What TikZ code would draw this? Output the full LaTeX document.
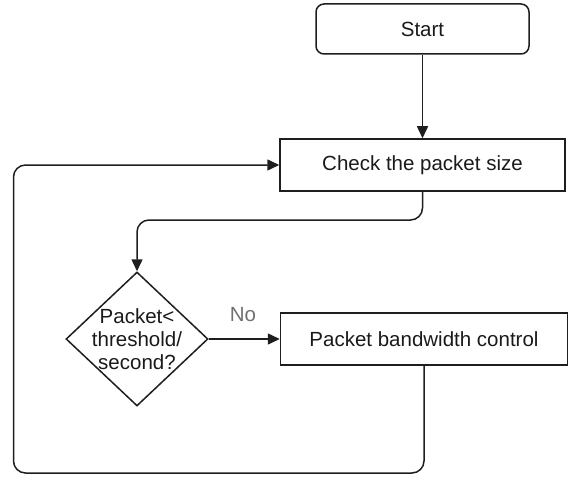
\documentclass[tikz,border=0pt]{standalone}
\usepackage{fontspec}
\setmainfont{Liberation Sans}
\usetikzlibrary{shapes.geometric,arrows.meta}
\definecolor{ln}{HTML}{1E1E1E}
\definecolor{tx}{HTML}{1A1A1A}
\definecolor{gr}{HTML}{707070}
\begin{document}
\begin{tikzpicture}[x=1pt,y=-1pt,
  box/.style={draw=ln,line width=1.5pt,rectangle,inner sep=0pt,text=tx,
    font=\fontsize{20.5}{23}\selectfont},
  conn/.style={draw=ln,line width=1.5pt,-{Triangle[length=12pt,width=11pt]}},
  txt/.style={text=tx,font=\fontsize{20.5}{23}\selectfont,align=center,inner sep=0pt}]
\useasboundingbox (0,0) rectangle (571,495);
\node[box,rounded corners=8pt,minimum width=213pt,minimum height=50pt] (start) at (422.5,29) {Start};
\node[box,minimum width=285pt,minimum height=52pt] (check) at (422.5,165) {Check the packet size};
\node[draw=ln,line width=1.5pt,diamond,inner sep=0pt,minimum width=142pt,minimum height=134pt] (dec) at (137,339) {};
\node[txt] (dectext) at (dec.center) {Packet<\\threshold/\\second?};
\node[box,minimum width=287pt,minimum height=52pt] (pbc) at (424,339) {Packet bandwidth control};
\node[text=gr,font=\fontsize{20.5}{23}\selectfont,inner sep=0pt] (no) at (243,315) {No};
\coordinate (c1) at (422.5,220);
\coordinate (c2) at (137,220);
\coordinate (l1) at (424,473);
\coordinate (l2) at (13.5,473);
\coordinate (l3) at (13.5,165);
\draw[conn] (start.south) -- (check.north);
\draw[conn,rounded corners=12pt] (check.south) -- (c1) -- (c2) -- (dec.north);
\draw[conn] (dec.east) -- (pbc.west);
\draw[conn,rounded corners=12pt] (pbc.south) -- (l1) -- (l2) -- (l3) -- (check.west);
\end{tikzpicture}
\end{document}
